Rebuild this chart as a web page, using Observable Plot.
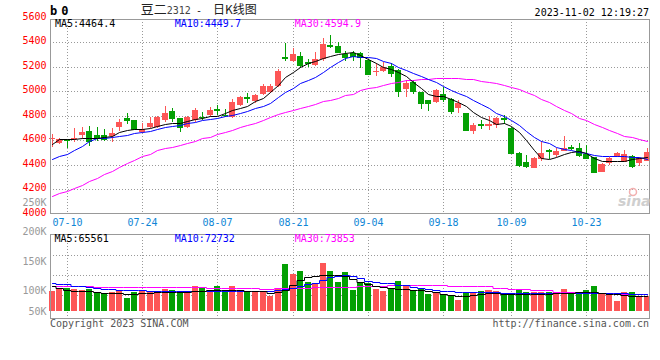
<!DOCTYPE html>
<html><head><meta charset="utf-8">
<script src="https://cdn.jsdelivr.net/npm/d3@7"></script>
<script src="https://cdn.jsdelivr.net/npm/@observablehq/plot@0.6"></script>
<style>
html,body{margin:0;padding:0;background:#fff;}
#chart{position:relative;width:660px;height:360px;overflow:hidden;background:#fff;}
#chart svg{position:absolute;left:0;top:0;}
</style></head><body><div id="chart"></div>
<script>
// ---- data ----
const tickIdx = [2, 12, 22, 32, 42, 52, 61, 71];
const tickLabels = ["07-10", "07-24", "08-07", "08-21", "09-04", "09-18", "10-09", "10-23"];
const priceTicks = [4000, 4200, 4400, 4600, 4800, 5000, 5200, 5400, 5600];
const priceGrid = [4200, 4400, 4600, 4800, 5000, 5200, 5400];
const volTicks = [100000, 150000, 200000, 250000];
const volTickLow = [50000];
const volGrid = [91500, 125400, 159300];
const volBase = 64400;

const open = [4612,4580,4608,4612,4646,4678,4643,4643,4638,4711,
  4780,4766,4670,4711,4711,4766,4839,4778,4711,4766,
  4793,4806,4855,4810,4788,4888,4956,4923,4978,4997,
  5043,5282,5250,5288,5242,5215,5261,5380,5370,5304,
  5315,5310,5255,5163,5168,5207,5174,5019,5078,4997,
  4929,4915,4980,4935,4861,4820,4678,4733,4717,4725,
  4780,4698,4494,4425,4376,4445,4517,4480,4513,4543,
  4535,4488,4461,4344,4412,4472,4425,4472,4417,4433];
const high = [4649,4621,4610,4700,4709,4717,4709,4695,4700,4774,
  4820,4766,4739,4793,4798,4880,4861,4782,4798,4866,
  4831,4869,4888,4853,4935,4962,4989,4978,5060,5060,
  5180,5392,5351,5323,5265,5323,5432,5460,5405,5330,
  5331,5318,5261,5229,5242,5234,5180,5092,5092,4997,
  4929,5016,5038,4943,4929,4820,4739,4766,4798,4793,
  4806,4706,4507,4480,4461,4597,4527,4537,4635,4562,
  4580,4562,4461,4412,4466,4507,4521,4480,4461,4535];
const low = [4548,4572,4535,4590,4608,4556,4597,4593,4589,4676,
  4733,4682,4662,4698,4698,4752,4752,4670,4700,4752,
  4763,4788,4806,4788,4780,4880,4907,4907,4970,4984,
  5038,5250,5242,5188,5195,5206,5250,5351,5310,5250,
  5250,5190,5133,5125,5160,5115,4951,4951,4978,4853,
  4842,4902,4915,4815,4825,4678,4651,4690,4684,4698,
  4733,4494,4384,4371,4371,4435,4445,4463,4510,4521,
  4461,4445,4344,4339,4398,4461,4425,4371,4390,4433];
const close = [4617,4608,4600,4617,4668,4598,4624,4614,4662,4752,
  4768,4694,4690,4739,4790,4820,4780,4711,4790,4847,
  4787,4847,4849,4804,4915,4956,4943,4970,5043,5043,
  5168,5274,5304,5215,5232,5261,5386,5370,5323,5280,
  5288,5282,5141,5168,5196,5152,5005,5070,5005,4902,
  4902,5011,4940,4842,4902,4684,4725,4725,4733,4780,
  4771,4499,4398,4390,4453,4494,4509,4515,4540,4537,
  4480,4453,4344,4407,4453,4494,4488,4394,4453,4507];
const ma5 = [4566,4607,4611,4611,4615,4616,4621,4623,4635,4664,
  4684,4690,4692,4704,4717,4729,4739,4745,4758,4774,
  4786,4798,4802,4823,4847,4864,4884,4921,4945,4994,
  5051,5117,5160,5198,5227,5247,5272,5292,5304,5313,
  5317,5296,5264,5227,5202,5182,5158,5121,5076,5027,
  4974,4962,4958,4937,4909,4876,4835,4794,4762,4733,
  4741,4717,4668,4602,4521,4456,4445,4464,4492,4504,
  4509,4496,4456,4431,4431,4431,4431,4451,4456,4464];
const ma10 = [4447,4472,4492,4521,4553,4594,4615,4616,4627,4639,
  4647,4660,4670,4680,4692,4709,4717,4725,4741,4753,
  4762,4774,4786,4798,4807,4823,4839,4864,4884,4904,
  4953,4998,5031,5064,5092,5113,5158,5198,5239,5272,
  5288,5284,5276,5268,5247,5227,5198,5174,5149,5125,
  5100,5072,5043,5011,4986,4962,4933,4896,4860,4823,
  4798,4766,4725,4676,4631,4598,4574,4545,4533,4521,
  4504,4494,4480,4472,4472,4472,4468,4464,4460,4450];
const ma30 = [4149,4166,4186,4211,4239,4268,4292,4321,4349,4378,
  4415,4439,4468,4492,4517,4537,4549,4562,4578,4598,
  4615,4631,4651,4668,4688,4709,4725,4745,4766,4790,
  4811,4827,4847,4864,4880,4897,4917,4933,4949,4966,
  4982,5011,5027,5039,5051,5068,5080,5092,5096,5100,
  5104,5109,5111,5111,5110,5104,5098,5088,5080,5068,
  5051,5035,5015,4994,4970,4937,4909,4876,4847,4819,
  4786,4762,4737,4709,4684,4660,4639,4623,4607,4595];
const volume = [98800,102900,102900,101700,100000,101200,97100,94400,97100,100000,
  86900,97100,100000,97100,97100,101700,100000,96100,98800,106800,
  103400,98800,106800,98800,106800,97100,98300,98800,98800,90300,
  103400,144600,127100,132200,113600,109700,146300,132200,113600,130000,
  100000,111900,111900,101700,98300,103900,115300,108000,98300,102900,
  93200,94900,93200,91500,83100,95400,96600,98300,100000,98300,
  93200,93200,101700,96600,96600,96600,96600,96600,101700,96600,
  96600,100000,106800,93200,91500,81400,96600,96600,89800,89800];
const volMa5 = [106800,103400,100000,98300,98300,97500,95800,94900,94900,94100,
  93200,93200,94100,94900,95800,95800,96600,96600,96600,97500,
  98300,100000,100800,100800,100800,99200,97500,97500,97500,94900,
  95800,100000,108500,116900,122000,123700,125400,125400,124600,123700,
  118600,113600,110200,107600,105100,103400,102500,101700,100800,99200,
  97500,95800,93200,91500,89800,89800,90700,92400,94100,94100,
  93200,93200,93200,93200,93200,93200,93200,94100,94900,94900,
  95800,96600,96600,94900,93200,92400,91500,89800,89800,89800];
const volMa10 = [112700,111000,110200,107600,106800,105900,104200,102500,101700,100800,
  100000,99200,99200,98300,98300,98300,98300,97500,97500,97500,
  98300,98300,98300,98300,98300,98300,98300,98300,98300,98300,
  99200,101700,104200,107600,110200,112700,116900,121200,123700,124600,
  122900,119500,116100,114400,112700,111900,109300,108500,105900,104200,
  102500,100000,98300,97500,96600,96600,96600,95800,95800,95800,
  94900,94900,94900,94900,94900,94900,94900,94900,94900,94900,
  94900,94900,94900,94900,94900,94900,94100,93200,93200,93200];
const volMa30 = [107600,107600,107600,107600,107600,107600,104600,104600,104600,104600,
  104600,104600,104600,104600,104600,104600,104600,105900,105900,105900,
  105900,104200,104200,104200,104200,104200,104200,104200,101700,101700,
  103400,103400,103400,103400,103400,105100,105100,105100,105100,105100,
  105100,106800,106800,106800,106800,108500,108500,108500,108500,108500,
  108500,108500,108500,106800,106800,106800,106800,106800,106800,104200,
  104200,101200,101200,101200,100000,100000,100000,96600,96600,96600,
  96600,96600,94400,94400,94400,94400,92400,92400,92400,92400];

// ---- build ----
const RED = "#fd5656", GREEN = "#03a003";
const MONO = "'DejaVu Sans Mono', monospace";
const candles = open.map((o, i) => ({
  i, open: o, high: high[i], low: low[i], close: close[i],
  ma5: ma5[i], ma10: ma10[i], ma30: ma30[i],
  vol: volume[i], vma5: volMa5[i], vma10: volMa10[i], vma30: volMa30[i],
  color: close[i] > o ? RED : GREEN
}));
const W = 660, H = 360;
const xScale = {domain: [0, 79], range: [51.6, 646.7], round: true};
const bx1 = d => d.i - 0.4, bx2 = d => d.i + 0.4;
const dotted = {stroke: "#999", strokeOpacity: 1, strokeDasharray: "1,2"};
const baseStyle = {background: "transparent", fontFamily: MONO, fontSize: "10px", overflow: "visible"};

const price = Plot.plot({
  width: W, height: H, marginLeft: 50, marginRight: 11, marginTop: 19, marginBottom: 147,
  style: baseStyle,
  x: xScale,
  y: {domain: [4000, 5600], range: [213.8, 17.8], round: true},
  color: {type: "identity"},
  marks: [
    Plot.gridY({ticks: priceGrid, ...dotted}),
    Plot.gridX({ticks: tickIdx, ...dotted}),
    Plot.ruleX(candles, {x: "i", y1: "low", y2: "high", stroke: "color"}),
    Plot.rect(candles, {x1: bx1, x2: bx2, y1: "open", y2: "close", fill: "color"}),
    Plot.ruleY(candles, {y: "close", x1: bx1, x2: bx2, stroke: "color"}),
    Plot.line(candles, {x: "i", y: "ma30", stroke: "#ff00ff", strokeWidth: 1}),
    Plot.line(candles, {x: "i", y: "ma10", stroke: "#0000ff", strokeWidth: 1}),
    Plot.line(candles, {x: "i", y: "ma5", stroke: "#000000", strokeWidth: 1}),
    Plot.frame({stroke: "#999"}),
    Plot.axisY({ticks: priceTicks, anchor: "left", tickSize: 0, tickPadding: 4, fill: "#ff0000", dy: -1.5,
      tickFormat: v => String(v), label: null}),
    Plot.axisX({ticks: tickIdx, anchor: "bottom", tickSize: 0, tickPadding: 5, fill: "#0f86d6",
      tickFormat: v => tickLabels[tickIdx.indexOf(v)], label: null})
  ]
});

const vol = Plot.plot({
  width: W, height: H, marginLeft: 50, marginRight: 11, marginTop: 234, marginBottom: 42,
  style: baseStyle,
  x: {...xScale, axis: null},
  y: {domain: [0, 250000], range: [349, 201.5], round: true},
  color: {type: "identity"},
  marks: [
    Plot.gridY({ticks: volGrid, ...dotted}),
    Plot.gridX({ticks: tickIdx, ...dotted}),
    Plot.rect(candles, {x1: bx1, x2: bx2, y1: () => volBase, y2: "vol", fill: "color"}),
    Plot.line(candles, {x: "i", y: "vma30", curve: "step", stroke: "#ff00ff", strokeWidth: 1}),
    Plot.line(candles, {x: "i", y: "vma10", curve: "step", stroke: "#0000ff", strokeWidth: 1}),
    Plot.line(candles, {x: "i", y: "vma5", curve: "step", stroke: "#000000", strokeWidth: 1}),
    Plot.frame({stroke: "#999"}),
    Plot.axisY({ticks: volTicks, anchor: "left", tickSize: 0, tickPadding: 4, fill: "#999",
      tickFormat: v => v / 1000 + "K", label: null}),
    Plot.axisY({ticks: volTickLow, anchor: "left", tickSize: 0, tickPadding: 4, fill: "#999", dy: -8.7,
      tickFormat: v => v / 1000 + "K", label: null})
  ]
});

const chart = document.getElementById("chart");
chart.appendChild(price);
chart.appendChild(vol);

// ---- text annotations ----
const ann = d3.create("svg").attr("width", W).attr("height", H)
  .style("font-family", MONO).style("font-size", "10px");
function txt(s, x, y, opts = {}) {
  const t = ann.append("text").attr("x", x).attr("y", y).text(s)
    .attr("fill", opts.fill || "#000").attr("text-anchor", opts.anchor || "start");
  if (opts.font) t.style("font-family", opts.font);
  if (opts.size) t.style("font-size", opts.size);
  if (opts.weight) t.style("font-weight", opts.weight);
  if (opts.style) t.style("font-style", opts.style);
  if (opts.ls) t.style("letter-spacing", opts.ls);
  return t;
}
const CJK = "'Noto Sans CJK SC', sans-serif";
txt("b0", 50, 15, {size: "12px", weight: "bold", ls: "4px"});
txt("豆二", 140.7, 13.6, {font: CJK, size: "13px", fill: "#222"});
txt("2312", 166.7, 14, {fill: "#444"});
txt("-", 196, 13.5, {fill: "#222"});
txt("日K线图", 213, 13.6, {font: CJK, size: "12px", fill: "#222"});
txt("2023-11-02 12:19:27", 649, 15.5, {anchor: "end"});
txt("MA5:4464.4", 55, 27.3, {fill: "#000"});
txt("MA10:4449.7", 174.7, 27.3, {fill: "#0000ff"});
txt("MA30:4594.9", 294.7, 27.3, {fill: "#ff00ff"});
txt("MA5:65561", 54.5, 241.7, {fill: "#000"});
txt("MA10:72732", 174.7, 241.7, {fill: "#0000ff"});
txt("MA30:73853", 294.7, 241.7, {fill: "#ff00ff"});
txt("Copyright 2023 SINA.COM", 50, 326.6, {fill: "#555"});
txt("http://finance.sina.com.cn", 649, 326.6, {fill: "#555", anchor: "end"});
ann.append("circle").attr("cx", 633).attr("cy", 192).attr("r", 3.5)
  .attr("fill", "none").attr("stroke", "#f3b0b0").attr("stroke-width", 1.5);
txt("sina", 618, 206, {font: "'DejaVu Sans', sans-serif", size: "14px", weight: "bold", style: "italic", fill: "#cfcfcf"});
chart.appendChild(ann.node());
</script>
</body></html>
